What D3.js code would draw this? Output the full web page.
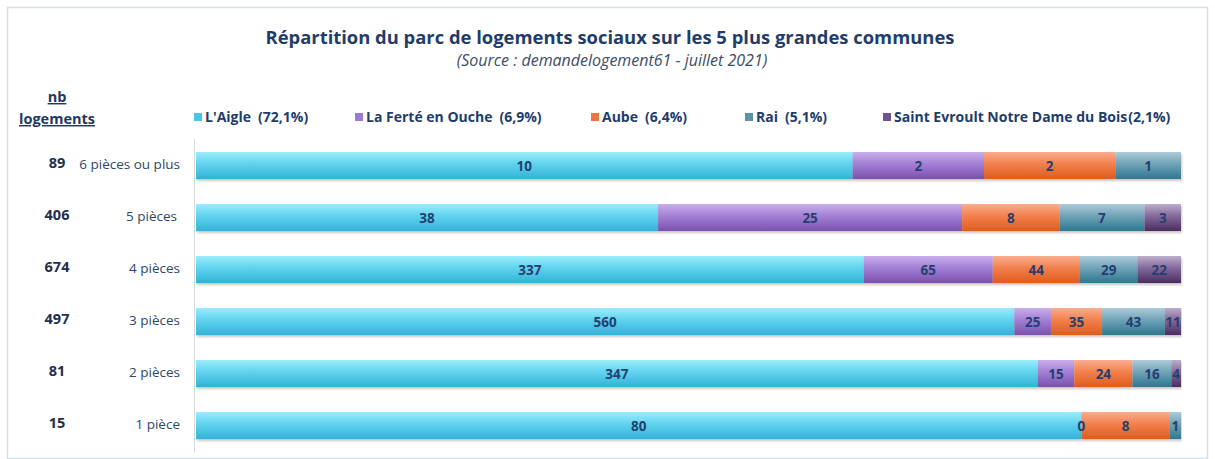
<!DOCTYPE html>
<html>
<head>
<meta charset="utf-8">
<script src="https://cdn.jsdelivr.net/npm/d3@7"></script>
<style>
  html, body { margin: 0; padding: 0; background: #ffffff; }
  svg { display: block; }
  text { font-family: "Open Sans", Lato, sans-serif; }
</style>
</head>
<body>
<svg id="chart" width="1215" height="459"></svg>
<script>
// Room categories, top to bottom
const categories = ["6 pièces ou plus", "5 pièces", "4 pièces", "3 pièces", "2 pièces", "1 pièce"];
// Number of dwellings printed at the left of each row
const nbLogements = [89, 406, 674, 497, 81, 15];

// Communes (series) and their legend shares
const communes = ["L'Aigle", "La Ferté en Ouche", "Aube", "Rai", "Saint Evroult Notre Dame du Bois"];
const shares = ["(72,1%)", "(6,9%)", "(6,4%)", "(5,1%)", "(2,1%)"];

// Dwellings per commune for each category (null = no value)
const laigle        = [10, 38, 337, 560, 347, 80];
const laFerte       = [2, 25, 65, 25, 15, 0];
const aube          = [2, 8, 44, 35, 24, 8];
const rai           = [1, 7, 29, 43, 16, 1];
const saintEvroult  = [null, 3, 22, 11, 4, null];

const seriesValues = [laigle, laFerte, aube, rai, saintEvroult];

// Fill gradients per series: top, middle, bottom
const palette = [
  ["#9aedfb", "#5fd2ee", "#33b2d6"],
  ["#c9aeec", "#a27fd4", "#7a50ad"],
  ["#faae8f", "#f27f4c", "#dd5d1c"],
  ["#aecbdb", "#6fa2b6", "#2d7790"],
  ["#bdaecb", "#82699a", "#4a2d60"]
];
const legendSwatch = ["#4cc6e6", "#9c7bcc", "#ec7540", "#5b93a8", "#6f5688"];

const svg = d3.select("#chart");
const W = 1215, H = 459;

const defs = svg.append("defs");
palette.forEach((c, i) => {
  const g = defs.append("linearGradient")
    .attr("id", "grad" + i)
    .attr("x1", 0).attr("y1", 0).attr("x2", 0).attr("y2", 1);
  g.append("stop").attr("offset", "0%").attr("stop-color", c[0]);
  g.append("stop").attr("offset", "45%").attr("stop-color", c[1]);
  g.append("stop").attr("offset", "100%").attr("stop-color", c[2]);
});
const shadow = defs.append("filter").attr("id", "shadow")
  .attr("x", "-5%").attr("y", "-20%").attr("width", "110%").attr("height", "160%");
shadow.append("feDropShadow")
  .attr("dx", 1).attr("dy", 2).attr("stdDeviation", 1.2)
  .attr("flood-color", "#7a5a5a").attr("flood-opacity", 0.35);

// Chart frame
svg.append("rect")
  .attr("x", 7.5).attr("y", 7.5).attr("width", W - 15).attr("height", H - 8)
  .attr("fill", "#ffffff").attr("stroke", "#d5dfeb").attr("stroke-width", 1.5);

// Title and source
svg.append("text")
  .attr("x", 610).attr("y", 44)
  .attr("text-anchor", "middle")
  .attr("font-size", 18.4).attr("font-weight", 700)
  .attr("fill", "#1f3d6b")
  .text("Répartition du parc de logements sociaux sur les 5 plus grandes communes");
svg.append("text")
  .attr("x", 612).attr("y", 66)
  .attr("text-anchor", "middle")
  .attr("font-size", 16).attr("font-style", "italic")
  .attr("fill", "#3e4d68")
  .text("(Source : demandelogement61 - juillet 2021)");

// Scales
const x = d3.scaleLinear().domain([0, 1]).range([196, 1181]);
const y = d3.scaleBand().domain(categories).range([139.5, 451.5])
  .paddingInner(0.48).paddingOuter(0.24);

// Stack shares of each row
const rows = categories.map((cat, i) => {
  const vals = seriesValues.map(s => s[i]);
  const total = d3.sum(vals, v => v || 0);
  let acc = 0;
  return vals.map((v, k) => {
    const x0 = acc / total;
    acc += (v || 0);
    return { cat, k, v, x0, x1: acc / total };
  });
});

// Vertical axis line
svg.append("line")
  .attr("x1", 194.5).attr("x2", 194.5)
  .attr("y1", 139).attr("y2", 452)
  .attr("stroke", "#d9d9d9").attr("stroke-width", 1);

const segs = rows.flat();

svg.append("g").selectAll("rect")
  .data(segs.filter(d => d.v !== null && d.v > 0))
  .join("rect")
  .attr("x", d => x(d.x0))
  .attr("y", d => y(d.cat))
  .attr("width", d => x(d.x1) - x(d.x0))
  .attr("height", y.bandwidth())
  .attr("fill", d => `url(#grad${d.k})`)
  .attr("filter", "url(#shadow)");

// Value labels centred in each segment
svg.append("g").selectAll("text")
  .data(segs.filter(d => d.v !== null))
  .join("text")
  .attr("x", d => (x(d.x0) + x(d.x1)) / 2)
  .attr("y", d => y(d.cat) + y.bandwidth() / 2 + 5)
  .attr("text-anchor", "middle")
  .attr("font-size", 13.5).attr("font-weight", 700)
  .attr("fill", "#253f70")
  .text(d => d.v);

// Category labels
svg.append("g").selectAll("text")
  .data(categories)
  .join("text")
  .attr("x", (d, i) => i === 1 ? 177 : 180)
  .attr("y", d => y(d) + y.bandwidth() / 2 + 3)
  .attr("text-anchor", "end")
  .attr("font-size", 13.5)
  .attr("fill", "#2e4769")
  .text(d => d);

// Dwelling counts
svg.append("g").selectAll("text")
  .data(categories)
  .join("text")
  .attr("x", 57)
  .attr("y", (d, i) => y(d) + y.bandwidth() / 2 + 2)
  .attr("text-anchor", "middle")
  .attr("font-size", 14.5).attr("font-weight", 700)
  .attr("fill", "#1f2f4f")
  .text((d, i) => nbLogements[i]);

// Column header
["nb", "logements"].forEach((t, i) => {
  svg.append("text")
    .attr("x", 57).attr("y", 102 + i * 22)
    .attr("text-anchor", "middle")
    .attr("font-size", 14.5).attr("font-weight", 700)
    .attr("text-decoration", "underline")
    .attr("fill", "#1f3864")
    .text(t);
});

// Legend
const legendX = [194, 355, 591, 745, 883];
const legend = svg.append("g");
communes.forEach((name, i) => {
  const g = legend.append("g").attr("transform", `translate(${legendX[i]},0)`);
  g.append("rect")
    .attr("x", 0).attr("y", 113).attr("width", 8).attr("height", 8)
    .attr("fill", legendSwatch[i]);
  const t = g.append("text")
    .attr("x", 11).attr("y", 122)
    .attr("font-size", 14).attr("font-weight", 700)
    .attr("fill", "#1f3d6b");
  t.append("tspan").text(name);
  t.append("tspan").attr("dx", i === 4 ? 1 : 7).text(shares[i]);
});
</script>
</body>
</html>
